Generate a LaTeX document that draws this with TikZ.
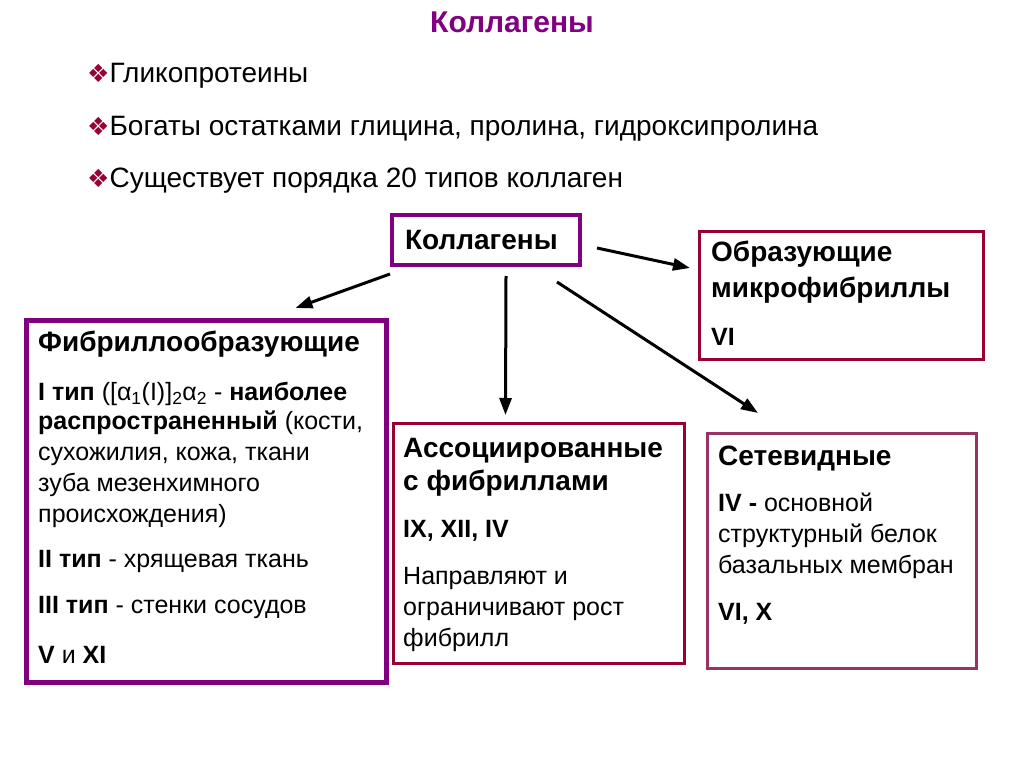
\documentclass[tikz,border=0pt]{standalone}
\usepackage{fontspec}
\setmainfont{Liberation Sans}
\newfontfamily\dingsym{DejaVu Sans}
\usepackage{tikz}
\usetikzlibrary{arrows.meta,positioning}
\definecolor{colpurple}{HTML}{800080}
\definecolor{colwine}{HTML}{990033}
\definecolor{colrose}{HTML}{993366}
\tikzset{
  panel/.style={draw,fill=white,anchor=north west,inner sep=0pt,line width=3pt},
  txt/.style={anchor=north west,inner sep=0pt,align=left,font=\fontsize{25}{31}\selectfont},
  bullet/.style={anchor=west,inner sep=0pt,font=\fontsize{28}{34}\selectfont},
  ar/.style={-{Triangle[length=17pt,width=12pt]},line width=3pt},
}
\newcommand\dia{{\dingsym\color{colwine}\fontsize{25}{30}\selectfont ❖}}
\newcommand\hd[1]{{\fontsize{28}{31}\selectfont\bfseries #1}}

\begin{document}
\begin{tikzpicture}[x=1pt,y=-1pt]
  \useasboundingbox (0,0) rectangle (1024,767);
  \node[font=\fontsize{30}{36}\selectfont\bfseries,text=colpurple] (title) at (512,22) {Коллагены};
  \node[bullet] (b1) at (87,76) {\dia Гликопротеины};
  \node[bullet] (b2) at (87,129) {\dia Богаты остатками глицина, пролина, гидроксипролина};
  \node[bullet] (b3) at (87,181) {\dia Существует порядка 20 типов коллаген};

  \node[panel,draw=colpurple,line width=4pt,text width=162pt,align=left,inner xsep=13pt,
    minimum height=50pt,font=\fontsize{28}{32}\selectfont\bfseries] (col) at (390,213) {Коллагены};

  \node[panel,draw=colpurple,line width=5pt,minimum width=360,minimum height=362] (fib) at (24,318) {};
  \node[txt] (fibtext) at (38,330) {\strut\hd{Фибриллообразующие}\\[18pt]
    \textbf{I тип} ([α\textsubscript{1}(I)]\textsubscript{2}α\textsubscript{2} - \textbf{наиболее}\\[-2pt]
    \textbf{распространенный} (кости,\\
    сухожилия, кожа, ткани\\
    зуба мезенхимного\\
    происхождения)\\[14pt]
    \textbf{II тип} - хрящевая ткань\\[15pt]
    \textbf{III тип} - стенки сосудов\\[19pt]
    \textbf{V} и \textbf{XI}};

  \node[panel,draw=colwine,minimum width=291,minimum height=240] (ass) at (392,422) {};
  \node[txt] (asstext) at (403,436) {\strut\hd{Ассоциированные}\\[2pt]
    \hd{с фибриллами}\\[16pt]
    \textbf{IX, XII, IV}\\[16pt]
    Направляют и\\
    ограничивают рост\\
    фибрилл};

  \node[panel,draw=colwine,minimum width=284,minimum height=128] (mic) at (698,230) {};
  \node[txt] (mictext) at (711,240) {\strut\hd{Образующие}\\[5pt]
    \hd{микрофибриллы}\\[17pt]
    \textbf{VI}};

  \node[panel,draw=colrose,minimum width=269,minimum height=235] (net) at (706,432) {};
  \node[txt] (nettext) at (718,444) {\strut\hd{Сетевидные}\\[15pt]
    \textbf{IV -} основной\\
    структурный белок\\
    базальных мембран\\[16pt]
    \textbf{VI, X}};

  \draw[ar] ([shift={(0,7)}]col.south west) -- ([shift={(89,-10)}]fib.north);
  \draw[ar] ([shift={(20,9)}]col.south) -- ([shift={(-33.5,-7)}]ass.north);
  \draw[ar] ([shift={(-25,15)}]col.south east) -- ([shift={(52,-19)}]net.north west);
  \draw[ar] ([shift={(15,8)}]col.east) -- ([shift={(-8,38)}]mic.north west);
\end{tikzpicture}
\end{document}
